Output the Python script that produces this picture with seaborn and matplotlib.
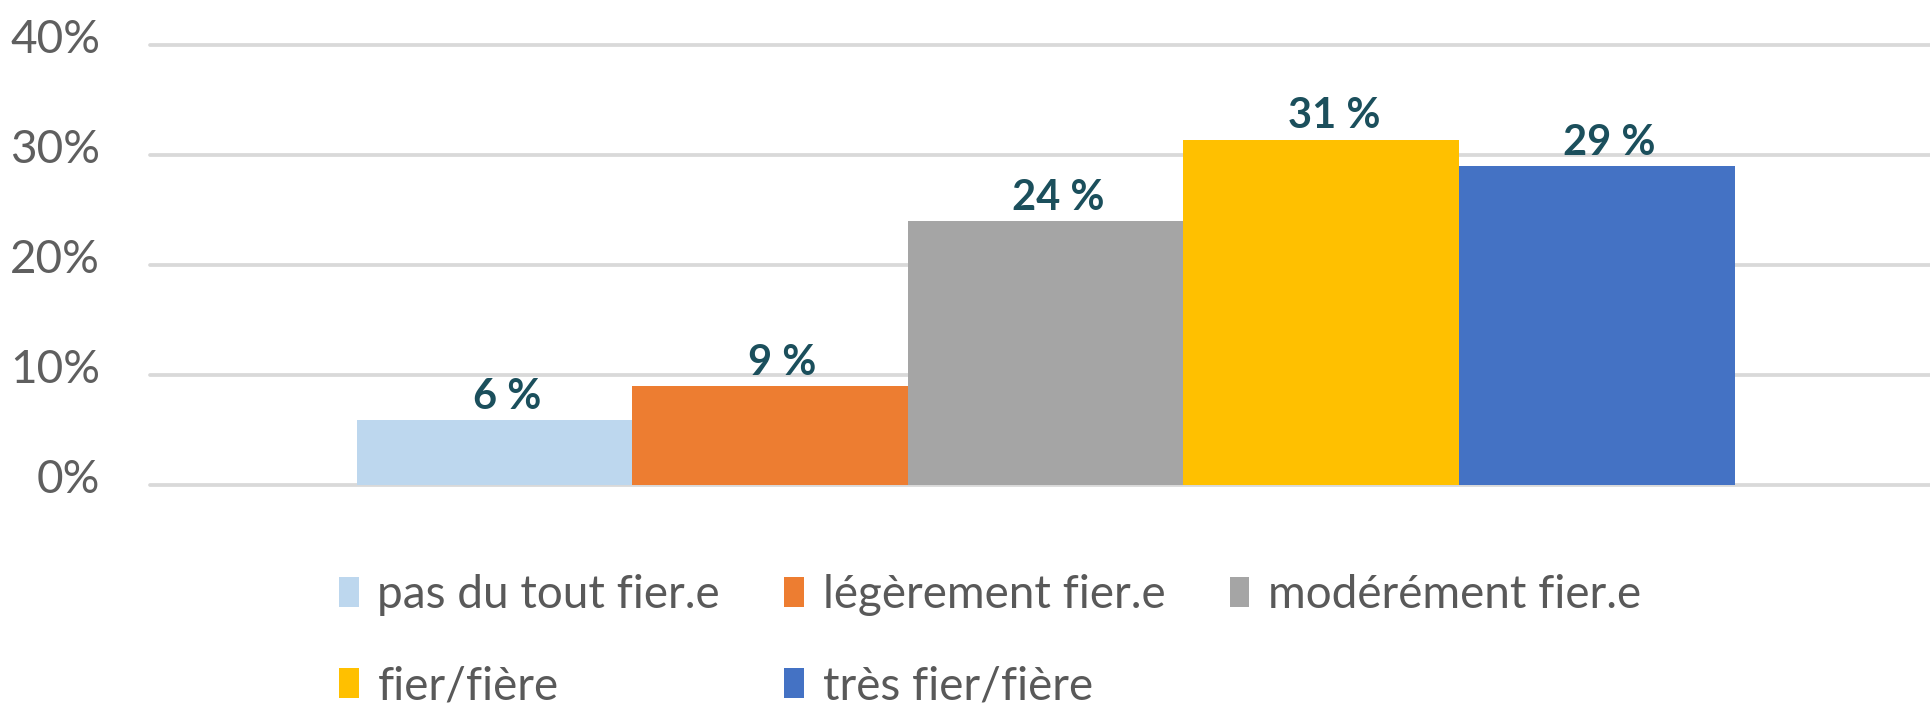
import pandas as pd
import numpy as np
import matplotlib.pyplot as plt
import seaborn as sns
from matplotlib.transforms import ScaledTranslation

# donnees
reponses = ["pas du tout fier.e", "légèrement fier.e", "modérément fier.e",
            "fier/fière", "très fier/fière"]
pourcentages = [5.9, 9.0, 24.0, 31.4, 29.0]
etiquettes = ["6 %", "9 %", "24 %", "31 %", "29 %"]
couleurs = ["#bdd7ee", "#ed7d31", "#a5a5a5", "#ffc000", "#4472c4"]
graduations = [0, 10, 20, 30, 40]

data = pd.DataFrame({"groupe": [""] * len(reponses),
                     "reponse": reponses,
                     "pct": pourcentages})

sns.set_theme(style="white")
plt.rcParams['font.family'] = ['Lato', 'DejaVu Sans']

fig = plt.figure(figsize=(19.31, 7.05), dpi=100)
ax = fig.add_axes([150 / 1931, 220 / 705, 1 - 150 / 1931, 440 / 705])

sns.barplot(data=data, x="groupe", y="pct", hue="reponse", palette=couleurs,
            saturation=1, width=0.8, gap=0, linewidth=0, ax=ax)

ax.set_ylim(0, 40)
ax.set_xlim(-0.52, 0.514)
ax.set_yticks(graduations)
ax.set_yticklabels([f"{g}%" for g in graduations], fontsize=33, color="#5f5f5f")
ax.tick_params(axis='y', length=0, pad=36)
ax.tick_params(axis='x', length=0, labelbottom=False)
ax.set_xlabel("")
ax.set_ylabel("")
ax.yaxis.grid(True, color="#d9d9d9", lw=2.7)
ax.set_axisbelow(True)
for line in ax.get_ygridlines():
    line.set_clip_on(False)
for s in ax.spines.values():
    s.set_visible(False)

# petit decalage vers le haut des graduations
for t in ax.get_yticklabels():
    t.set_transform(t.get_transform() + ScaledTranslation(0, 6.5 / 72, fig.dpi_scale_trans))

# etiquettes de valeurs
for cont, lbl in zip(ax.containers, etiquettes):
    bar = cont[0]
    ax.annotate(lbl, (bar.get_x() + bar.get_width() / 2, bar.get_height()),
                xytext=(9, 8), textcoords="offset points", ha="center",
                va="baseline", fontsize=30, fontweight="bold", color="#1b4f5c")

# legende en deux lignes
handles, labs = ax.get_legend_handles_labels()
ax.get_legend().remove()
ordre = [0, 3, 1, 4, 2]
fig.legend([handles[i] for i in ordre], [labs[i] for i in ordre], ncol=3,
           loc='upper left', bbox_to_anchor=(339 / 1931, 131 / 705),
           frameon=False, fontsize=33, labelcolor="#595959",
           handlelength=0.43, handleheight=0.63, handletextpad=0.41,
           columnspacing=1.4, labelspacing=1.08, borderpad=0, borderaxespad=0)

fig.savefig("out.png", dpi=100)
